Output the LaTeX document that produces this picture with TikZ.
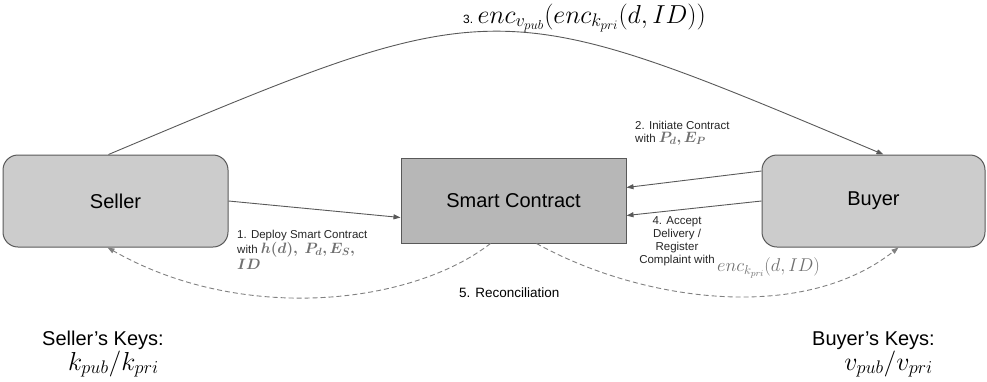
\RequirePackage{fix-cm}
\documentclass[tikz,border=0pt]{standalone}
\usepackage{bm}
\usepackage[no-math]{fontspec}
\setmainfont{Liberation Sans}
\usetikzlibrary{arrows.meta}
\definecolor{boxfill}{HTML}{CCCCCC}
\definecolor{scfill}{HTML}{B7B7B7}
\definecolor{edge}{HTML}{595959}
\definecolor{mathgray}{HTML}{707070}
\tikzset{
  party/.style={draw=edge, line width=1pt, fill=boxfill, rounded corners=15pt, minimum width=225pt, minimum height=92pt, inner sep=0pt, font=\fontsize{20}{24}\selectfont},
  contract/.style={draw=edge, line width=1pt, fill=scfill, minimum width=225pt, minimum height=85pt, inner sep=0pt, font=\fontsize{20}{24}\selectfont},
  conn/.style={draw=edge, line width=0.9pt, -{Triangle[length=7pt,width=5pt]}},
  dconn/.style={draw=gray, line width=0.9pt, dash pattern=on 5pt off 3pt, -{Triangle[length=7pt,width=5pt]}},
  small/.style={font=\fontsize{11.5}{13}\selectfont, text=black!85, inner sep=0pt},
  keys/.style={font=\fontsize{20}{24}\selectfont, inner sep=0pt},
  keymath/.style={font=\fontsize{26}{30}\selectfont, inner sep=0pt}
}
\begin{document}
\begin{tikzpicture}[x=1pt, y=-1pt]
\useasboundingbox (0,0) rectangle (987,381);
\node[party] (seller) at (115.5,201) {Seller};
\node[contract] (sc) at (513.5,200.5) {Smart Contract};
\node[party, minimum width=223pt] (buyer) at (873.5,201) {Buyer};

% 1
\draw[conn] (seller.east) -- ([yshift=-17pt]sc.west);
% 2
\draw[conn] ([yshift=30pt]buyer.west) -- ([yshift=13pt]sc.east);
% 4
\draw[conn] (buyer.west) -- ([yshift=-15pt]sc.east);
% 3
\draw[conn] ([xshift=-7pt]seller.north) .. controls +(390,-164) and +(-390,-164) .. ([xshift=10pt]buyer.north);
% 5
\draw[dconn] ([xshift=-23pt]sc.south) .. controls +(-80,62) and +(133,76) .. ([xshift=-8pt]seller.south);
\draw[dconn] ([xshift=23pt]sc.south) .. controls +(103,57) and +(-98,77) .. ([xshift=25pt]buyer.south);

% labels
\node[anchor=base west, inner sep=0pt] (l3) at (463,23) {\fontsize{12}{14}\selectfont 3. \fontsize{26}{30}\selectfont $enc_{v_{pub}}(enc_{k_{pri}}(d, ID))$};
\node[small, anchor=north west, align=left] (l2) at (635,121) {2. Initiate Contract\\with {\fontsize{15}{15}\selectfont\color{mathgray}$\bm{P_d, E_P}$}};
\node[small, anchor=north west, align=left] (l1) at (237,230) {1. Deploy Smart Contract\\with {\fontsize{15}{15}\selectfont\color{mathgray}$\bm{h(d),\ P_d, E_S,}$}\\[1pt]{\fontsize{15}{15}\selectfont\color{mathgray}$\bm{ID}$}};
\node[small, anchor=north, align=center] (l4) at (677,216) {4. Accept\\Delivery /\\Register\\Complaint with};
\node[anchor=west, inner sep=0pt, text=mathgray] (l4m) at (717,268) {\fontsize{18.5}{22}\selectfont $enc_{k_{pri}}(d, ID)$};
\node[anchor=west, inner sep=0pt, font=\fontsize{13.5}{16}\selectfont] (l5) at (459,293) {5. Reconciliation};

\node[keys, anchor=base west] (sk) at (42,345) {Seller's Keys:};
\node[keymath, anchor=base west] (skm) at (68,370) {$k_{pub}/k_{pri}$};
\node[keys, anchor=base east] (bk) at (935,345) {Buyer's Keys:};
\node[keymath, anchor=base east] (bkm) at (933,370) {$v_{pub}/v_{pri}$};
\end{tikzpicture}
\end{document}
